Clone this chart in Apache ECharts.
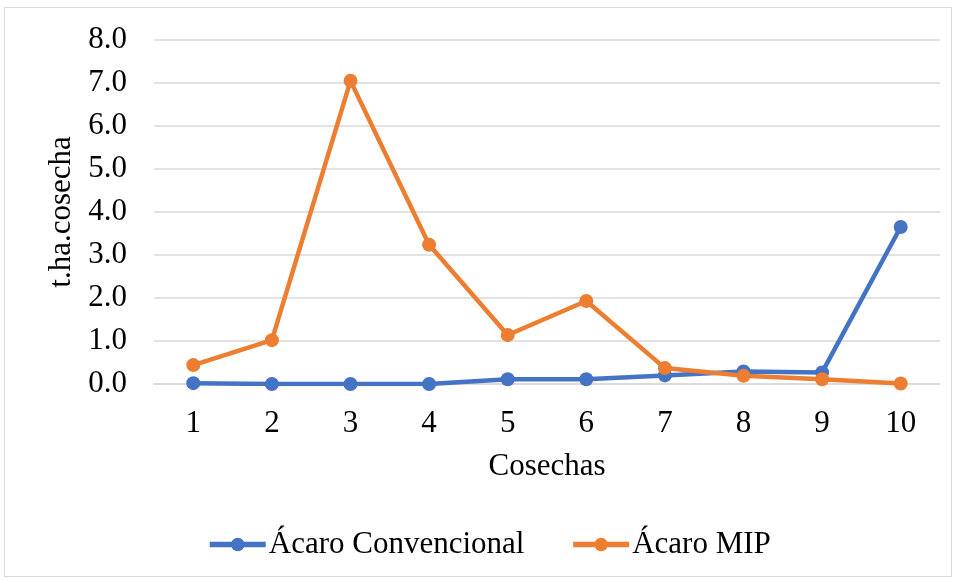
<!DOCTYPE html>
<html>
<head>
<meta charset="utf-8">
<script src="https://cdn.jsdelivr.net/npm/echarts@6/dist/echarts.min.js"></script>
<style>
  html, body { margin: 0; padding: 0; background: #fff; }
  #frame { position: absolute; left: 4px; top: 7px; width: 948px; height: 570px; border: 1px solid #d9d9d9; box-sizing: border-box; }
  #chart { position: absolute; left: 0; top: 0; width: 957px; height: 580px; }
</style>
</head>
<body>
<div id="frame"></div>
<div id="chart"></div>
<script>
// Harvest numbers and yields (t/ha per harvest)
const categories = ['1', '2', '3', '4', '5', '6', '7', '8', '9', '10'];
const acaroConvencional = [0.02, 0.0, 0.0, 0.0, 0.11, 0.11, 0.2, 0.29, 0.27, 3.65];
const acaroMIP = [0.44, 1.02, 7.05, 3.24, 1.14, 1.93, 0.37, 0.19, 0.11, 0.01];
const seriesNames = ['Ácaro Convencional', 'Ácaro MIP'];
const colors = ['#4472C4', '#ED7D31'];

const font = '"Liberation Serif", "Times New Roman", serif';
const fs = 31;
const chart = echarts.init(document.getElementById('chart'), null, { renderer: 'canvas' });

chart.setOption({
  animation: false,
  color: colors,
  grid: { left: 154, right: 17, top: 40, bottom: 196, containLabel: false },
  xAxis: {
    type: 'category',
    data: categories,
    boundaryGap: true,
    name: 'Cosechas',
    nameLocation: 'middle',
    nameGap: 67,
    nameTextStyle: { fontFamily: font, fontSize: fs, color: '#000' },
    axisLine: { lineStyle: { color: '#d9d9d9', width: 1.5 } },
    axisTick: { show: false },
    axisLabel: { fontFamily: font, fontSize: fs, color: '#000', margin: 24 }
  },
  yAxis: {
    type: 'value',
    min: 0,
    max: 8,
    interval: 1,
    name: 't.ha.cosecha',
    nameLocation: 'middle',
    nameGap: 72,
    nameRotate: 90,
    nameTextStyle: { fontFamily: font, fontSize: fs, color: '#000' },
    axisLine: { show: false },
    axisTick: { show: false },
    splitLine: { lineStyle: { color: '#d9d9d9', width: 1.5 } },
    axisLabel: {
      fontFamily: font, fontSize: fs, color: '#000', margin: 27,
      formatter: v => v.toFixed(1)
    }
  },
  legend: {
    bottom: 15,
    left: 202,
    itemWidth: 56,
    itemHeight: 17,
    itemGap: 46,
    lineStyle: { width: 5.5 },
    textStyle: { fontFamily: font, fontSize: fs, color: '#000', padding: [0, 0, 0, -2] },
    data: seriesNames
  },
  series: [
    {
      name: seriesNames[0], type: 'line', data: acaroConvencional,
      symbol: 'circle', symbolSize: 14,
      lineStyle: { width: 4.5, color: colors[0] },
      itemStyle: { color: colors[0] }
    },
    {
      name: seriesNames[1], type: 'line', data: acaroMIP,
      symbol: 'circle', symbolSize: 14,
      lineStyle: { width: 4.5, color: colors[1] },
      itemStyle: { color: colors[1] }
    }
  ]
});
</script>
</body>
</html>
